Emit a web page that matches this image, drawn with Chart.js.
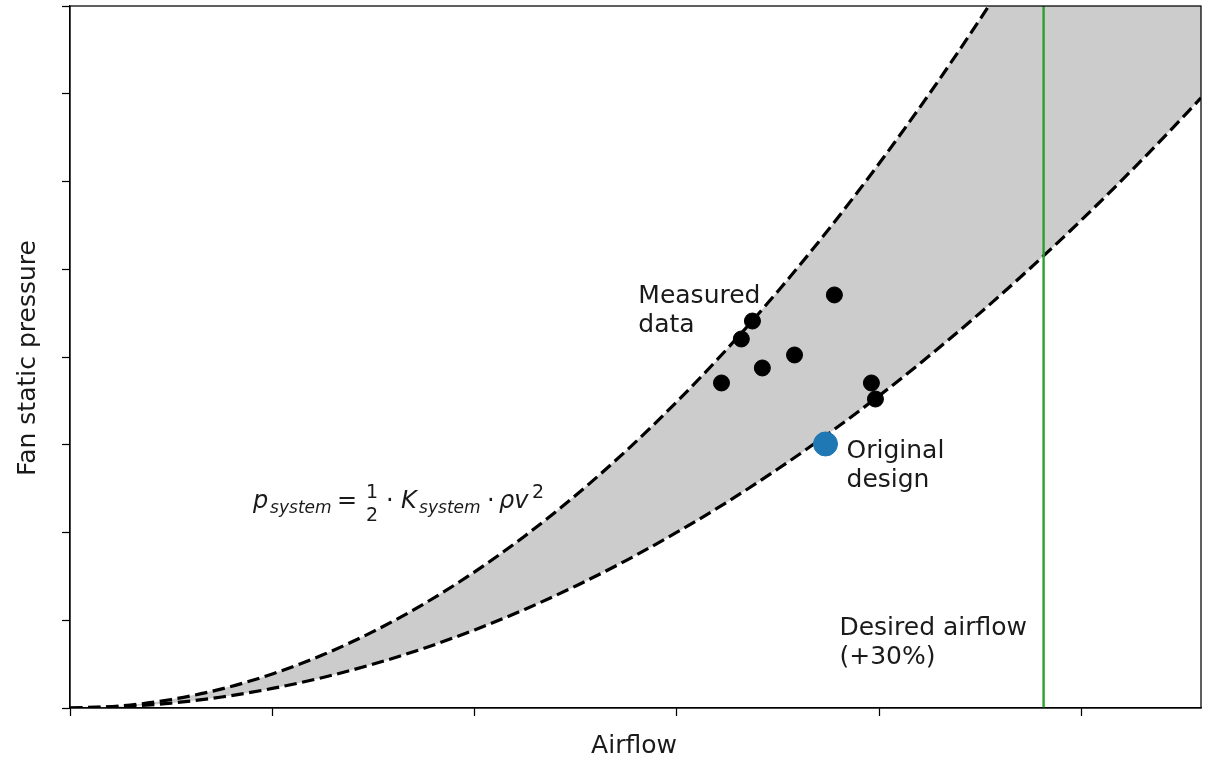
<!DOCTYPE html>
<html>
<head>
<meta charset="utf-8">
<title>System curve</title>
<script src="https://cdn.jsdelivr.net/npm/chart.js@4/dist/chart.umd.min.js"></script>
<style>
  html, body { margin: 0; padding: 0; background: #fff; }
</style>
</head>
<body>
<canvas id="chart" width="1210" height="760"></canvas>
<script>
// ---- data (arbitrary units) ----
const airflow = [0, 0.25, 0.5, 0.75, 1, 1.25, 1.5, 1.75, 2, 2.25, 2.5, 2.75, 3, 3.25, 3.5, 3.75, 4, 4.25, 4.5, 4.75, 5, 5.25, 5.5, 5.59];
const upperPressure = [0, 0.024, 0.097, 0.218, 0.388, 0.606, 0.873, 1.188, 1.552, 1.964, 2.425, 2.934, 3.492, 4.098, 4.753, 5.456, 6.208, 7.008, 7.857, 8.754, 9.70, 10.69, 11.74, 12.12];
const lowerPressure = [0, 0.014, 0.056, 0.125, 0.223, 0.348, 0.501, 0.681, 0.890, 1.126, 1.391, 1.683, 2.003, 2.350, 2.726, 3.129, 3.560, 4.019, 4.506, 5.020, 5.563, 6.133, 6.731, 6.953];

const measuredAirflow = [3.220, 3.318, 3.373, 3.422, 3.581, 3.778, 3.961, 3.981];
const measuredPressure = [3.704, 4.205, 4.410, 3.875, 4.023, 4.707, 3.704, 3.521];

const designAirflow = [3.734];
const designPressure = [3.009];

const desiredAirflow = [4.812, 4.812];
const desiredPressure = [0, 8];

const xRange = [0, 5.59];
const yRange = [0, 8];
const xTicks = [0, 1, 2, 3, 4, 5];
const yTicks = [0, 1, 2, 3, 4, 5, 6, 7, 8];

// text labels, anchored in data coordinates
const labels = [
  { lines: ['Measured', 'data'], x: 2.809, y: 4.615 },
  { lines: ['Original', 'design'], x: 3.838, y: 2.849 },
  { lines: ['Desired airflow', '(+30%)'], x: 3.803, y: 0.832 },
];
const formulaAt = { x: 0.905, y: 2.279 };

const FONT = '"DejaVu Sans", "Liberation Sans", sans-serif';
const TEXT = '#1a1a1a';

const toXY = (xs, ys) => xs.map((x, i) => ({ x, y: ys[i] }));

// ---- math label p_system = 1/2 · K_system · ρv² ----
function drawFormula(ctx, x, y) {
  const big = `24px ${FONT}`;
  const bigIt = `italic 24px ${FONT}`;
  const sub = `italic 17px ${FONT}`;
  const small = `19px ${FONT}`;
  const put = (text, font, dx, dy) => {
    ctx.font = font;
    ctx.fillText(text, x + dx, y + dy);
  };
  put('p', bigIt, 0, 0);
  put('system', sub, 17, 5);
  put('=', big, 84, 0);
  put('1', small, 113, -10);
  put('2', small, 113, 13);
  put('·', big, 133, 0);
  put('K', bigIt, 148, 0);
  put('system', sub, 166, 5);
  put('·', big, 234, 0);
  put('ρv', bigIt, 246, 0);
  put('2', small, 279, -10);
}

const decorations = {
  id: 'decorations',
  afterDraw(chart) {
    const { ctx, chartArea: a, scales } = chart;
    ctx.save();
    // full box around plot
    ctx.strokeStyle = '#000';
    ctx.lineWidth = 1.25;
    ctx.strokeRect(a.left, a.top, a.right - a.left, a.bottom - a.top);

    ctx.fillStyle = TEXT;
    ctx.textBaseline = 'alphabetic';
    ctx.textAlign = 'left';
    ctx.font = `25px ${FONT}`;
    labels.forEach(l => {
      const px = scales.x.getPixelForValue(l.x);
      const py = scales.y.getPixelForValue(l.y);
      l.lines.forEach((t, i) => ctx.fillText(t, px, py + i * 29));
    });

    drawFormula(ctx, scales.x.getPixelForValue(formulaAt.x), scales.y.getPixelForValue(formulaAt.y));

    // axis titles
    ctx.font = `25px ${FONT}`;
    ctx.textAlign = 'center';
    ctx.textBaseline = 'middle';
    ctx.fillText('Airflow', 634, 746);
    ctx.translate(28, 358);
    ctx.rotate(-Math.PI / 2);
    ctx.fillText('Fan static pressure', 0, 0);
    ctx.restore();
  }
};

const axisStyle = (tickValues) => ({
  type: 'linear',
  grid: { drawOnChartArea: false, drawTicks: true, tickLength: 8, color: '#000', tickWidth: 1.25 },
  border: { display: true, color: '#000', width: 1.25 },
  ticks: { display: false },
  title: { display: false },
  afterBuildTicks: axis => { axis.ticks = tickValues.map(v => ({ value: v })); },
});

new Chart(document.getElementById('chart').getContext('2d'), {
  type: 'line',
  data: {
    datasets: [
      {
        label: 'upper',
        data: toXY(airflow, upperPressure),
        borderColor: '#000',
        borderWidth: 3.2,
        borderDash: [12.5, 5.5],
        backgroundColor: '#cccccc',
        fill: 1,
        pointRadius: 0,
        cubicInterpolationMode: 'monotone',
        order: 4,
      },
      {
        label: 'lower',
        data: toXY(airflow, lowerPressure),
        borderColor: '#000',
        borderWidth: 3.2,
        borderDash: [12.5, 5.5],
        fill: false,
        pointRadius: 0,
        cubicInterpolationMode: 'monotone',
        order: 3,
      },
      {
        label: 'desired',
        data: toXY(desiredAirflow, desiredPressure),
        borderColor: '#2ca02c',
        borderWidth: 2.4,
        pointRadius: 0,
        fill: false,
        order: 2,
      },
      {
        type: 'scatter',
        label: 'measured',
        data: toXY(measuredAirflow, measuredPressure),
        backgroundColor: '#000',
        borderColor: '#000',
        pointRadius: 8,
        order: 1,
      },
      {
        type: 'scatter',
        label: 'design',
        data: toXY(designAirflow, designPressure),
        backgroundColor: '#1f77b4',
        borderColor: '#1f77b4',
        pointRadius: 12,
        order: 0,
      },
    ],
  },
  options: {
    responsive: false,
    animation: false,
    layout: { autoPadding: false, padding: { left: 62, right: 9, top: 6, bottom: 44 } },
    plugins: {
      legend: { display: false },
      tooltip: { enabled: false },
      filler: { propagate: false },
    },
    scales: {
      x: { ...axisStyle(xTicks), min: xRange[0], max: xRange[1] },
      y: { ...axisStyle(yTicks), min: yRange[0], max: yRange[1] },
    },
  },
  plugins: [decorations],
});
</script>
</body>
</html>
